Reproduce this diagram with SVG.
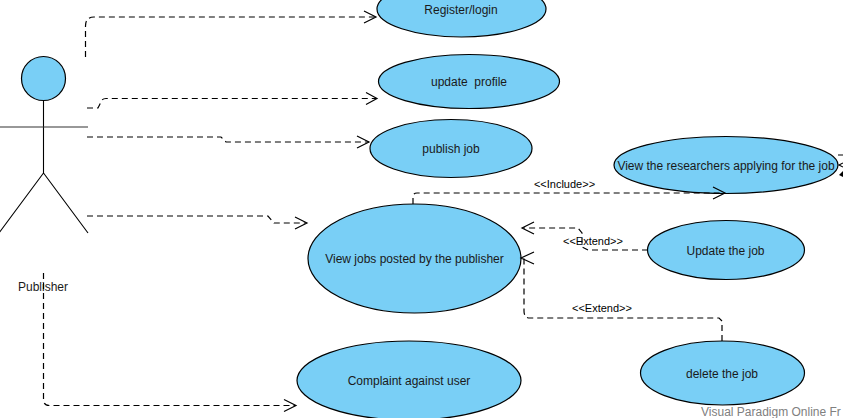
<svg xmlns="http://www.w3.org/2000/svg" width="843" height="418" viewBox="0 0 843 418">
<style>
.uc{fill:#79cff6;stroke:#000;stroke-width:1.2}
.t{font-family:"Liberation Sans",Arial,sans-serif;font-size:12px;fill:#1a1a1a;text-anchor:middle;white-space:pre}
.l{font-family:"Liberation Sans",Arial,sans-serif;font-size:11px;fill:#000;text-anchor:middle}
.c{fill:none;stroke:#000;stroke-width:1.2;stroke-dasharray:6 4}
.a{fill:none;stroke:#000;stroke-width:1.2}
.s{fill:none;stroke:#000;stroke-width:1.1}
</style>
<rect width="843" height="418" fill="#fff"/>
<g id="actor">
<circle class="uc" cx="43.500" cy="78.500" r="22"/>
<path class="s" d="M43.500 100.500V173M43.500 173L-1 233M43.500 173L88 233"/>
<path d="M0 127H88" fill="none" stroke="#333" stroke-width="1.200"/>
<text class="t" x="43" y="291">Publisher</text>
</g>
<g id="uc-register"><ellipse class="uc" cx="461.500" cy="9" rx="84.500" ry="28"/><text class="t" x="461" y="13.500">Register/login</text></g>
<g id="uc-profile"><ellipse class="uc" cx="469" cy="81.500" rx="90.500" ry="27"/><text class="t" x="469" y="86" xml:space="preserve">update  profile</text></g>
<g id="uc-publish"><ellipse class="uc" cx="451" cy="148.500" rx="81" ry="29"/><text class="t" x="451" y="153">publish job</text></g>
<g id="uc-view"><ellipse class="uc" cx="414.500" cy="258.500" rx="106.500" ry="54.500"/><text class="t" x="414.500" y="263">View jobs posted by the publisher</text></g>
<g id="uc-researchers"><ellipse class="uc" cx="726" cy="165" rx="112" ry="28.500"/><text class="t" x="726" y="169.500">View the researchers applying for the job</text></g>
<g id="uc-update"><ellipse class="uc" cx="726" cy="250" rx="78.500" ry="29.500"/><text class="t" x="725.500" y="255">Update the job</text></g>
<g id="uc-delete"><ellipse class="uc" cx="722.500" cy="373" rx="82" ry="32"/><text class="t" x="722" y="378">delete the job</text></g>
<g id="uc-complaint"><ellipse class="uc" cx="409" cy="380.500" rx="112" ry="39.500"/><text class="t" x="409" y="385">Complaint against user</text></g>
<g id="connectors">
<path class="c" d="M85.500 57V26Q85.500 17 94 17H376"/><path class="a" d="M364 11L376 17L364 23"/>
<path class="c" d="M87 108H98L101 102Q102 98.500 106 98.500H377"/><path class="a" d="M366 92.500L377 98.500L366 104.500"/>
<path class="c" d="M87 137H221L226 142H369"/><path class="a" d="M357 136L369 142L357 148"/>
<path class="c" d="M87 216H268L274 223H306"/><path class="a" d="M295 217L307 223L295 229"/>
<path class="c" d="M43.500 273V400Q43.500 405.500 50 405.500H296"/><path class="a" d="M284 399.500L296 405.500L284 411.500"/>
<path class="c" d="M413 204V197Q413 193 417 193H724"/><path class="a" d="M713 187L725 193L713 199"/>
<path class="c" d="M648 250H588L582 247V233L578 228H523"/><path class="a" d="M534 222L522 228L534 234"/>
<path class="c" d="M722 341V321L719 318H530Q524 318 524 311V258"/><path class="a" d="M534 252L521 258L534 264"/>
<path class="s" d="M838 155H843M843 163L839 165L843 167"/>
<path d="M843 171L839 175L843 177Z" fill="#000"/>
<text class="l" x="564.500" y="188">&lt;&lt;Include&gt;&gt;</text>
<text class="l" x="593" y="245">&lt;&lt;Extend&gt;&gt;</text>
<text class="l" x="602" y="312">&lt;&lt;Extend&gt;&gt;</text>
</g>
<text x="701" y="416" font-family="'Liberation Sans',Arial,sans-serif" font-size="12" fill="#808080">Visual Paradigm Online Fr</text>
</svg>
